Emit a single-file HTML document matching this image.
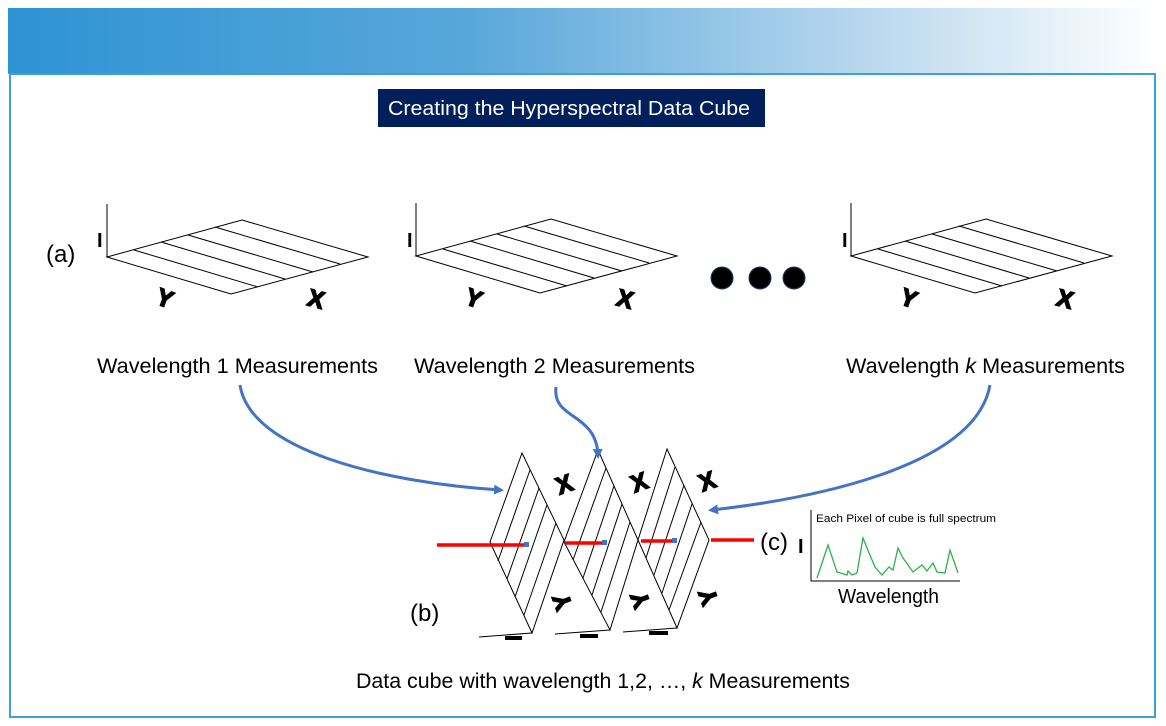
<!DOCTYPE html>
<html><head><meta charset="utf-8"><style>
body{margin:0;background:#fff;}
svg{display:block;font-family:"Liberation Sans",sans-serif;}
</style></head><body>
<svg width="1166" height="726" viewBox="0 0 1166 726" xmlns="http://www.w3.org/2000/svg">
<defs>
<linearGradient id="g" x1="0" x2="1" y1="0" y2="0">
<stop offset="0" stop-color="#2e93d3"/><stop offset="0.4" stop-color="#58a7da"/><stop offset="0.75" stop-color="#b9d8ee"/><stop offset="1" stop-color="#ffffff"/>
</linearGradient>
<marker id="ah" markerWidth="10" markerHeight="10" refX="6" refY="5" orient="auto" markerUnits="userSpaceOnUse" viewBox="0 0 10 10"><path d="M0,0 L10,5 L0,10 Z" fill="#4472c4"/></marker>
</defs>
<rect x="8" y="8" width="1148" height="66" fill="url(#g)"/>
<rect x="10" y="74" width="1145" height="643" fill="none" stroke="#3d9fe0" stroke-width="2"/>
<rect x="378" y="89" width="387" height="38" fill="#001f5b"/>
<text x="388" y="115" font-size="20" fill="#fff" textLength="362" lengthAdjust="spacingAndGlyphs">Creating the Hyperspectral Data Cube</text>

<g stroke="#000" stroke-width="1" fill="none">
<polygon points="107,257 242,220 368,257 231,294"/>
<line x1="107" y1="257" x2="107" y2="204"/>
<line x1="134" y1="250" x2="258" y2="287"/><line x1="161" y1="242" x2="285" y2="279"/><line x1="188" y1="235" x2="313" y2="272"/><line x1="215" y1="227" x2="340" y2="264"/>
<polygon points="416,256 551,219 677,256 540,293"/>
<line x1="416" y1="256" x2="416" y2="203"/>
<line x1="443" y1="249" x2="567" y2="286"/><line x1="470" y1="241" x2="594" y2="278"/><line x1="497" y1="234" x2="622" y2="271"/><line x1="524" y1="226" x2="649" y2="263"/>
<polygon points="851,256 986,219 1112,256 975,293"/>
<line x1="851" y1="256" x2="851" y2="203"/>
<line x1="878" y1="249" x2="1002" y2="286"/><line x1="905" y1="241" x2="1029" y2="278"/><line x1="932" y1="234" x2="1057" y2="271"/><line x1="959" y1="226" x2="1084" y2="263"/>

<polygon points="522,453 564,540 532,633 490,542"/>
<line x1="530" y1="470" x2="498" y2="561"/><line x1="539" y1="488" x2="507" y2="579"/><line x1="547" y1="505" x2="515" y2="597"/><line x1="556" y1="523" x2="524" y2="615"/>
<polygon points="598,450 638,540 610,630 564,542"/>
<line x1="606" y1="468" x2="573" y2="560"/><line x1="614" y1="486" x2="583" y2="578"/><line x1="622" y1="504" x2="592" y2="595"/><line x1="630" y1="522" x2="601" y2="612"/>
<polygon points="667,449 709,540 677,628 638,540"/>
<line x1="675" y1="467" x2="646" y2="558"/><line x1="684" y1="485" x2="654" y2="575"/><line x1="692" y1="504" x2="662" y2="593"/><line x1="701" y1="522" x2="669" y2="610"/>
<line x1="479" y1="637" x2="532" y2="633"/><line x1="555" y1="634" x2="610" y2="630"/><line x1="623" y1="632" x2="677" y2="628"/>
<polyline points="811,510 811,581 960,581"/>
</g>
<g fill="#000"><rect x="505" y="636" width="17" height="4"/><rect x="580" y="634" width="18" height="4"/><rect x="649" y="631" width="19" height="4"/></g>

<g stroke="#ff0000" stroke-width="3.5">
<line x1="437" y1="545" x2="527" y2="545"/><line x1="565" y1="543" x2="604" y2="543"/><line x1="641" y1="541" x2="674" y2="541"/><line x1="711" y1="540" x2="754" y2="540"/>
</g>
<g fill="#4472c4"><rect x="524" y="542" width="5" height="5"/><rect x="602" y="540" width="5" height="5"/><rect x="672" y="538" width="5" height="5"/></g>

<g fill="#000" stroke="#1f3864" stroke-width="1"><circle cx="722" cy="278" r="11"/><circle cx="760" cy="278" r="11"/><circle cx="794" cy="278" r="11"/></g>

<g stroke="#4472c4" stroke-width="3" fill="none" marker-end="url(#ah)">
<path d="M240,385 C250,450 380,482 500,490"/>
<path d="M556,387 C552,420 596,412 598,455"/>
<path d="M990,385 C975,470 800,500 712,510"/>
</g>

<polyline fill="none" stroke="#2db14a" stroke-width="1.3" points="817,578 828,545 837,572 847,575 848,571 852,575 857,573 863,538 867,548 875,567 882,575 889,567 893,570 898,548 903,558 913,572 922,565 927,571 933,563 937,572 945,573 950,550 958,573"/>

<g font-size="24" fill="#000">
<text x="46" y="262">(a)</text><text x="410" y="621">(b)</text><text x="760" y="550">(c)</text>
</g>
<g font-size="20" font-weight="bold" fill="#000">
<text x="97" y="247">I</text><text x="407" y="247">I</text><text x="842" y="247">I</text><text x="798" y="553">I</text>
</g>
<g font-size="24" font-weight="bold" fill="#000" stroke="#000" stroke-width="1.5" text-anchor="middle">
<text transform="translate(162,306) rotate(20)">Y</text>
<text transform="translate(314,307) rotate(15)">X</text>
<text transform="translate(471,306) rotate(20)">Y</text>
<text transform="translate(623,307) rotate(15)">X</text>
<text transform="translate(906,306) rotate(20)">Y</text>
<text transform="translate(1063,307) rotate(15)">X</text>
<text transform="translate(567,492) rotate(-20)">X</text>
<text transform="translate(642,490) rotate(-20)">X</text>
<text transform="translate(710,489) rotate(-20)">X</text>
<text transform="translate(570,599) rotate(-110)">Y</text>
<text transform="translate(648,597) rotate(-110)">Y</text>
<text transform="translate(716,594) rotate(-110)">Y</text>
</g>
<g font-size="21" fill="#000">
<text x="97" y="373" textLength="281" lengthAdjust="spacingAndGlyphs">Wavelength 1 Measurements</text>
<text x="414" y="373" textLength="281" lengthAdjust="spacingAndGlyphs">Wavelength 2 Measurements</text>
<text x="846" y="373" textLength="279" lengthAdjust="spacingAndGlyphs">Wavelength <tspan font-style="italic">k</tspan> Measurements</text>
<text x="356" y="688" textLength="494" lengthAdjust="spacingAndGlyphs">Data cube with wavelength 1,2, …, <tspan font-style="italic">k</tspan> Measurements</text>
<text x="838" y="603" font-size="20" textLength="101" lengthAdjust="spacingAndGlyphs">Wavelength</text>
</g>
<text x="816" y="522" font-size="11" fill="#000" textLength="180" lengthAdjust="spacingAndGlyphs">Each Pixel of cube is full spectrum</text>
</svg>
</body></html>
